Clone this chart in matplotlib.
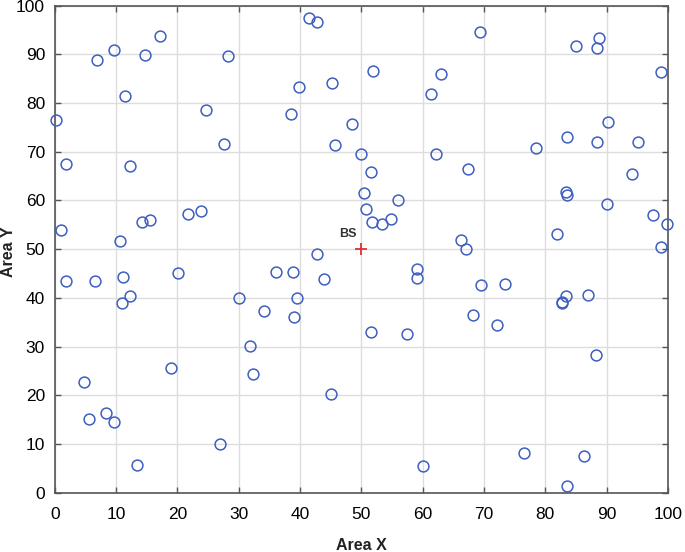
import matplotlib.pyplot as plt

# node positions
node_x = [0.2, 1.9, 6.9, 9.7, 11.5, 12.3, 14.7, 17.1, 24.7, 27.6, 28.2,
          41.4, 42.8, 39.9, 45.2, 51.9, 38.5, 48.5, 45.7, 49.9, 51.5, 50.4,
          55.9, 61.4, 63.0, 62.2, 67.4, 69.3, 85.0, 88.8, 88.5, 98.9, 90.2,
          83.5, 88.5, 95.2, 78.5, 94.2, 83.4, 83.6,
          1.0, 1.9, 6.5, 10.7, 11.1, 10.9, 12.3, 14.3, 15.6, 20.1, 21.7,
          23.8, 30.0, 18.9, 31.8,
          50.7, 51.8, 53.3, 54.8, 42.8, 36.1, 38.8, 43.9, 39.5, 34.1, 39.0,
          51.5, 57.5, 59.1, 59.1, 66.2, 67.0, 69.5, 68.2, 90.0, 97.5, 99.9,
          98.9, 81.9, 73.5, 72.1, 83.4, 82.8, 82.7, 86.9, 88.3,
          4.8, 5.5, 8.4, 9.6, 13.4, 27.0, 32.3, 45.1, 60.0, 76.5, 86.3, 83.6]
node_y = [76.5, 67.5, 88.8, 90.8, 81.5, 67.1, 89.9, 93.8, 78.6, 71.6, 89.6,
          97.4, 96.6, 83.2, 84.2, 86.6, 77.7, 75.6, 71.3, 69.5, 65.8, 61.5,
          60.2, 81.8, 85.9, 69.5, 66.4, 94.6, 91.7, 93.3, 91.3, 86.4, 76.2,
          73.0, 72.1, 72.1, 70.7, 65.5, 61.8, 61.1,
          54.0, 43.5, 43.5, 51.6, 44.4, 38.9, 40.5, 55.6, 56.0, 45.2, 57.2,
          57.8, 40.0, 25.6, 30.2,
          58.3, 55.5, 55.1, 56.1, 49.1, 45.3, 45.3, 43.9, 39.9, 37.4, 36.1,
          33.0, 32.6, 45.9, 44.0, 51.8, 50.0, 42.6, 36.6, 59.3, 57.0, 55.2,
          50.5, 53.2, 42.9, 34.5, 40.5, 39.2, 38.9, 40.7, 28.4,
          22.7, 15.2, 16.4, 14.6, 5.8, 10.0, 24.5, 20.4, 5.5, 8.2, 7.5, 1.5]

bs_x, bs_y = 50, 50
ticks = list(range(0, 101, 10))


def main():
    plt.rcParams['font.family'] = ['Liberation Sans', 'DejaVu Sans']
    fig = plt.figure(figsize=(6.85, 5.52), dpi=100)
    ax = fig.add_axes([0.080, 0.107, 0.895, 0.883])

    ax.plot(node_x, node_y, 'o', linestyle='none', markersize=7.8,
            markerfacecolor='none', markeredgecolor='#3f5fbf',
            markeredgewidth=1.1, clip_on=False, zorder=3)
    ax.plot(bs_x, bs_y, '+', color='#e03030', markersize=9,
            markeredgewidth=1.3, zorder=4)
    ax.text(bs_x - 2.2, bs_y + 1.8, 'BS', fontsize=9, fontweight='bold',
            color='#333333', ha='center', va='bottom')

    ax.set_xlim(0, 100)
    ax.set_ylim(0, 100)
    ax.set_xticks(ticks)
    ax.set_yticks(ticks)
    ax.grid(True, color='#dddddd', linewidth=1)
    ax.set_axisbelow(True)
    ax.tick_params(direction='in', top=True, right=True, labeltop=False,
                   labelright=False, length=4, width=1, color='#555555',
                   labelsize=12.5)
    ax.tick_params(axis='x', pad=10)
    ax.tick_params(axis='y', pad=7)
    for s in ax.spines.values():
        s.set_color('#555555')
        s.set_linewidth(1.2)

    ax.set_xlabel('Area X', fontsize=11.5, fontweight='bold',
                  color='#222222')
    ax.set_ylabel('Area Y', fontsize=11.5, fontweight='bold',
                  color='#222222')
    ax.xaxis.set_label_coords(0.5, -0.092)
    ax.yaxis.set_label_coords(-0.064, 0.495)

    fig.savefig('out.png', dpi=100)


if __name__ == '__main__':
    main()
